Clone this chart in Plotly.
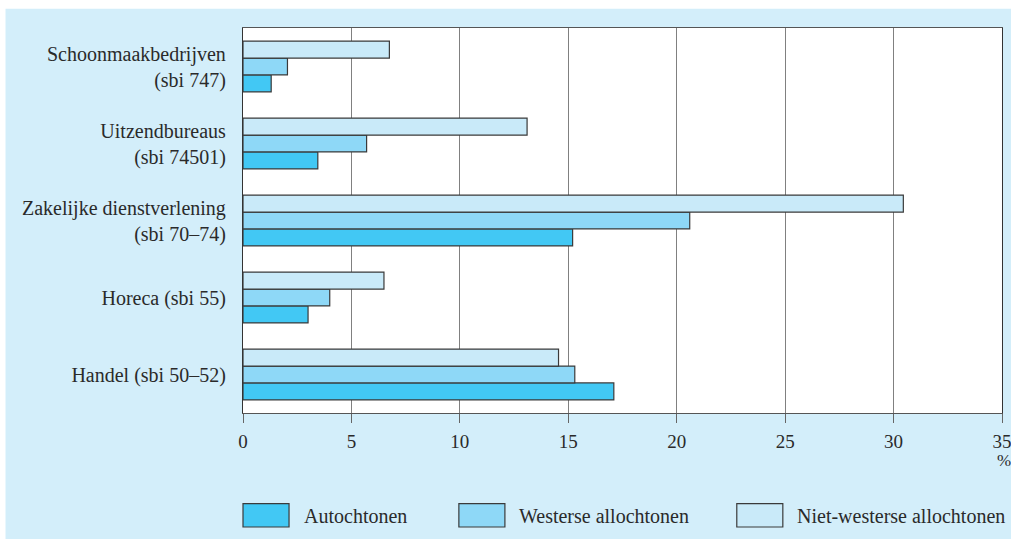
import plotly.graph_objects as go

# Data (top category first as shown)
categories = [
    "Schoonmaakbedrijven<br>(sbi 747)",
    "Uitzendbureaus<br>(sbi 74501)",
    "Zakelijke dienstverlening<br>(sbi 70–74)",
    "Horeca (sbi 55)",
    "Handel (sbi 50–52)",
]
series_names = ["Autochtonen", "Westerse allochtonen", "Niet-westerse allochtonen"]
autochtonen = [1.3, 3.45, 15.2, 3.0, 17.1]
westerse = [2.05, 5.7, 20.6, 4.0, 15.3]
niet_westerse = [6.75, 13.1, 30.45, 6.5, 14.55]
x_ticks = [0, 5, 10, 15, 20, 25, 30, 35]

colors = ["#42c8f4", "#8ed8f7", "#c9eaf9"]
BG = "#d3eefa"
FONT = "Liberation Serif"
TXT = "#2a2a2a"

W, H = 1011, 539
L, T = 243.3, 28.3
R = W - 1001.7
B = H - 413.3
pw, ph = W - L - R, H - T - B

def px(x):
    return (x - L) / pw

def py(y):
    return (H - B - y) / ph

fig = go.Figure()
for name, vals, col in zip(series_names, [autochtonen, westerse, niet_westerse], colors):
    fig.add_trace(go.Bar(
        y=categories, x=vals, name=name, orientation="h",
        marker=dict(color=col, line=dict(color="#3a3a3a", width=1.2)),
        showlegend=False,
    ))

shapes = [
    # white page strips at top and left
    dict(type="rect", xref="paper", yref="paper", x0=px(-5), x1=px(1020), y0=py(9), y1=py(-5),
         fillcolor="white", line_width=0, layer="below"),
    dict(type="rect", xref="paper", yref="paper", x0=px(-5), x1=px(6), y0=py(545), y1=py(-5),
         fillcolor="white", line_width=0, layer="below"),
]
annotations = []
leg_boxes = [(243.3, 304), (459, 519), (736.7, 797)]
for (bx, tx), name, col in zip(leg_boxes, series_names, colors):
    shapes.append(dict(type="rect", xref="paper", yref="paper",
                       x0=px(bx), x1=px(bx + 46), y0=py(527.3), y1=py(504),
                       fillcolor=col, line=dict(color="#3a3a3a", width=1.2)))
    annotations.append(dict(xref="paper", yref="paper", x=px(tx - 2), y=py(516),
                            text=name, showarrow=False, xanchor="left", yanchor="middle",
                            font=dict(family=FONT, size=20, color=TXT)))
annotations.append(dict(xref="paper", yref="paper", x=px(1004), y=py(461), text="%", showarrow=False,
                        xanchor="center", yanchor="middle",
                        font=dict(family=FONT, size=17, color=TXT)))

fig.update_layout(
    width=W, height=H, autosize=False,
    margin=dict(l=L, r=R, t=T, b=B, pad=0, autoexpand=False),
    paper_bgcolor=BG, plot_bgcolor="white",
    barmode="group", bargap=0.34, bargroupgap=0,
    shapes=shapes, annotations=annotations,
    font=dict(family=FONT, size=20, color=TXT),
)
fig.update_xaxes(
    range=[0, 35], tickvals=x_ticks, ticktext=[str(v) for v in x_ticks],
    automargin=False, ticklabeloverflow="allow",
    showgrid=True, gridcolor="#808080", gridwidth=1.3,
    showline=True, linecolor="#555", linewidth=1.3, mirror=True,
    ticks="outside", ticklen=9, tickcolor="#666", tickwidth=1.2,
    ticklabelstandoff=2,
    zeroline=False, tickfont=dict(family=FONT, size=19, color=TXT),
)
fig.update_yaxes(
    categoryorder="array", categoryarray=categories[::-1],
    automargin=False,
    showgrid=False, showline=True, linecolor="#333", linewidth=1.3, mirror=True,
    ticks="", ticklabelstandoff=12,
    tickfont=dict(family=FONT, size=20, color=TXT),
)
fig.write_html(
    "out.html",
    config={"displayModeBar": False},
    post_script="document.body.style.margin='0';document.documentElement.style.overflow='hidden';",
)
